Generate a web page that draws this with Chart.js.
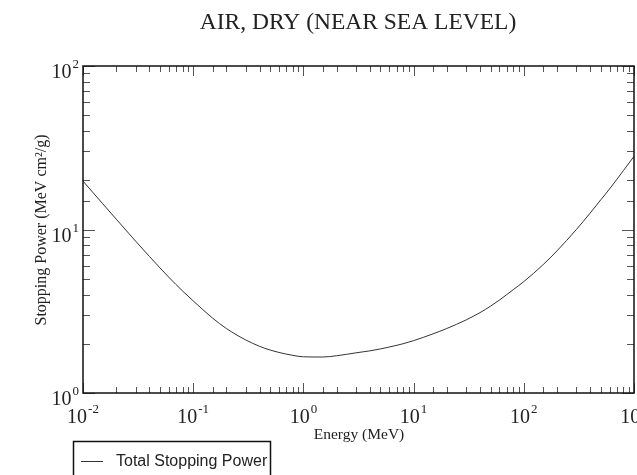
<!DOCTYPE html>
<html lang="en">
<head>
    <meta charset="UTF-8">
    <title>Air, Dry - Stopping Power</title>
    <script src="https://cdn.jsdelivr.net/npm/chart.js"></script>
    <style>
        body { margin: 0; background: #fff; }
        canvas { display: block; }
    </style>
</head>
<body>
    <canvas id="stoppingChart" width="637" height="475"></canvas>

    <script>
        // Electron total stopping power in dry air
        const energies = [0.01, 0.015, 0.02, 0.03, 0.04, 0.05, 0.06, 0.08, 0.1, 0.15, 0.2, 0.3, 0.4, 0.5, 0.6, 0.8,
            1, 1.5, 2, 3, 4, 5, 6, 8, 10, 15, 20, 30, 40, 50, 60, 80, 100, 150, 200, 300, 400, 500, 600, 800, 1000];
        const totalStopping = [19.76, 14.45, 11.58, 8.49, 6.85, 5.82, 5.11, 4.21, 3.66, 2.87, 2.48, 2.11, 1.93, 1.83, 1.77, 1.70,
            1.665, 1.66, 1.69, 1.76, 1.81, 1.86, 1.91, 2.00, 2.09, 2.30, 2.48, 2.80, 3.10, 3.40, 3.70, 4.28,
            4.80, 6.1, 7.4, 10.0, 12.6, 15.2, 17.7, 22.9, 28.0];

        const xExponents = [-2, -1, 0, 1, 2, 3];
        const yExponents = [0, 1, 2];

        const chartTitle = 'AIR, DRY (NEAR SEA LEVEL)';
        const xTitle = 'Energy (MeV)';
        const yTitle = 'Stopping Power (MeV cm\u00B2/g)';
        const seriesLabel = 'Total Stopping Power';

        const SERIF = '"Liberation Serif", "Times New Roman", serif';
        const SANS = '"Liberation Sans", Arial, sans-serif';

        // "10" with a raised exponent, anchored at x (center or right edge)
        function drawPower(ctx, exp, x, baseline, align) {
            ctx.font = '20px ' + SERIF;
            const base = '10';
            const bw = ctx.measureText(base).width;
            ctx.font = '13px ' + SERIF;
            const sup = String(exp);
            const sw = ctx.measureText(sup).width;
            const total = bw + sw + 1;
            let left = align === 'right' ? x - total : x - total / 2;
            ctx.textAlign = 'left';
            ctx.textBaseline = 'alphabetic';
            ctx.font = '20px ' + SERIF;
            ctx.fillText(base, left, baseline);
            ctx.font = '13px ' + SERIF;
            ctx.fillText(sup, left + bw + 1, baseline - 10);
        }

        // Frame, inward ticks on all four sides, labels and legend
        const framePlugin = {
            id: 'frame',
            afterDraw(chart) {
                const ctx = chart.ctx;
                const area = chart.chartArea;
                const xs = chart.scales.x;
                const ys = chart.scales.y;
                ctx.save();

                ctx.strokeStyle = '#555';
                ctx.lineWidth = 1;
                xs.ticks.forEach(t => {
                    const px = Math.round(xs.getPixelForValue(t.value)) + 0.5;
                    const len = t.major ? 10 : 6;
                    ctx.beginPath();
                    ctx.moveTo(px, area.bottom); ctx.lineTo(px, area.bottom - len);
                    ctx.moveTo(px, area.top); ctx.lineTo(px, area.top + len);
                    ctx.stroke();
                });
                ys.ticks.forEach(t => {
                    const py = Math.round(ys.getPixelForValue(t.value)) + 0.5;
                    const len = t.major ? 12 : 7;
                    ctx.beginPath();
                    ctx.moveTo(area.left, py); ctx.lineTo(area.left + len, py);
                    ctx.moveTo(area.right, py); ctx.lineTo(area.right - len, py);
                    ctx.stroke();
                });

                ctx.strokeStyle = '#111';
                ctx.lineWidth = 1.5;
                ctx.strokeRect(area.left, area.top, area.right - area.left, area.bottom - area.top);

                ctx.fillStyle = '#222';
                xExponents.forEach(e => {
                    drawPower(ctx, e, xs.getPixelForValue(Math.pow(10, e)), area.bottom + 30, 'center');
                });
                yExponents.forEach(e => {
                    drawPower(ctx, e, area.left - 4, ys.getPixelForValue(Math.pow(10, e)) + 12, 'right');
                });

                ctx.textAlign = 'center';
                ctx.textBaseline = 'alphabetic';
                ctx.font = '23.5px ' + SERIF;
                ctx.fillText(chartTitle, 358, 29);

                ctx.font = '15.5px ' + SERIF;
                ctx.fillText(xTitle, 359, 439);

                ctx.save();
                ctx.translate(46, 230);
                ctx.rotate(-Math.PI / 2);
                ctx.font = '16px ' + SERIF;
                ctx.fillText(yTitle, 0, 0);
                ctx.restore();

                // legend
                ctx.strokeStyle = '#111';
                ctx.lineWidth = 1.5;
                ctx.strokeRect(73.5, 441.5, 197, 45);
                ctx.strokeStyle = '#333';
                ctx.lineWidth = 1;
                ctx.beginPath();
                ctx.moveTo(81, 461.5); ctx.lineTo(103, 461.5);
                ctx.stroke();
                ctx.textAlign = 'left';
                ctx.font = '16px ' + SANS;
                ctx.fillText(seriesLabel, 116, 466);

                ctx.restore();
            }
        };

        const points = energies.map((e, i) => ({ x: e, y: totalStopping[i] }));

        new Chart(document.getElementById('stoppingChart'), {
            type: 'line',
            data: {
                datasets: [{
                    label: seriesLabel,
                    data: points,
                    borderColor: '#333',
                    borderWidth: 1,
                    pointRadius: 0,
                    cubicInterpolationMode: 'monotone',
                    fill: false
                }]
            },
            options: {
                responsive: false,
                animation: false,
                layout: { padding: { top: 66, right: 3, left: 0, bottom: 0 } },
                plugins: {
                    legend: { display: false },
                    title: { display: false },
                    tooltip: { enabled: false }
                },
                scales: {
                    x: {
                        type: 'logarithmic',
                        min: 0.01,
                        max: 1000,
                        ticks: { display: false, autoSkip: false },
                        grid: { display: false },
                        border: { display: false },
                        afterFit(scale) { scale.height = 82; }
                    },
                    y: {
                        type: 'logarithmic',
                        min: 1,
                        max: 100,
                        ticks: { display: false, autoSkip: false },
                        grid: { display: false },
                        border: { display: false },
                        afterFit(scale) { scale.width = 83; }
                    }
                }
            },
            plugins: [framePlugin]
        });
    </script>
</body>
</html>
